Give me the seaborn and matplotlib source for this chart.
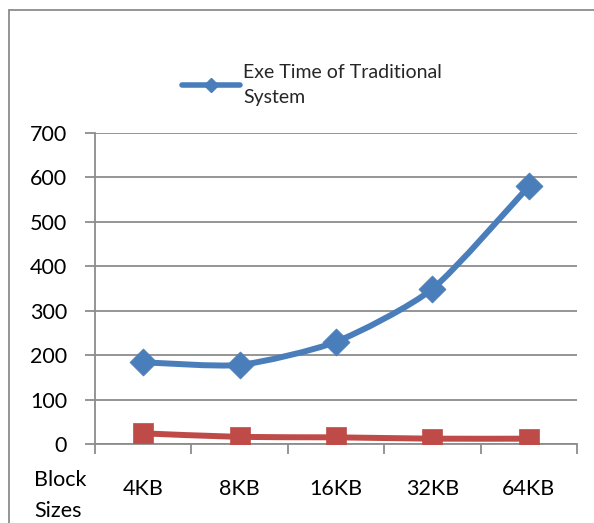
import numpy as np
import pandas as pd
import matplotlib
matplotlib.use("Agg")
import matplotlib.pyplot as plt
from matplotlib.path import Path
from matplotlib.patches import PathPatch
from matplotlib.lines import Line2D
import seaborn as sns

# Data
block_sizes = ["4KB", "8KB", "16KB", "32KB", "64KB"]
traditional_time = [184, 178, 230, 349, 580]
proposed_time = [24, 16, 15, 12, 12]
y_ticks = [0, 100, 200, 300, 400, 500, 600, 700]

BLUE = "#4A7EBB"
RED = "#BE4B48"
GRID = "#8C8C8C"

sns.set_theme(style="white")
plt.rcParams["font.family"] = ["Lato", "DejaVu Sans"]

fig = plt.figure(figsize=(5.94, 5.23), dpi=100)
ax = fig.add_axes([95 / 594, 1 - 444 / 523, (577 - 95) / 594, (444 - 133) / 523])

df = pd.DataFrame({
    "pos": np.arange(len(block_sizes)),
    "trad": traditional_time,
    "prop": proposed_time,
})


def smooth_path(xs, ys, tension=9.0):
    """Cubic Bezier curve through the points with gentle smoothing."""
    pts = np.column_stack([xs, ys]).astype(float)
    verts = [pts[0]]
    codes = [Path.MOVETO]
    n = len(pts)
    for i in range(n - 1):
        p0 = pts[i - 1] if i > 0 else pts[i]
        p1 = pts[i]
        p2 = pts[i + 1]
        p3 = pts[i + 2] if i + 2 < n else pts[i + 1]
        c1 = p1 + (p2 - p0) / tension
        c2 = p2 - (p3 - p1) / tension
        verts += [c1, c2, p2]
        codes += [Path.CURVE4] * 3
    return Path(verts, codes)


for col, color in (("trad", BLUE), ("prop", RED)):
    patch = PathPatch(smooth_path(df["pos"], df[col]), facecolor="none",
                      edgecolor=color, lw=4.3, capstyle="round",
                      joinstyle="round", zorder=3)
    ax.add_patch(patch)

sns.scatterplot(data=df, x="pos", y="trad", marker="D", s=190, color=BLUE,
                edgecolor=BLUE, linewidth=0.5, ax=ax, zorder=4, legend=False)
sns.scatterplot(data=df, x="pos", y="prop", marker="s", s=210, color=RED,
                edgecolor=RED, linewidth=0.5, ax=ax, zorder=4, legend=False)

# Axes styling
ax.set_xlim(-0.5, len(block_sizes) - 0.5)
ax.set_ylim(0, 700)
ax.set_yticks(y_ticks)
ax.set_yticklabels([str(v) for v in y_ticks])
ax.yaxis.grid(True, color=GRID, lw=1.3)
ax.set_axisbelow(True)

ax.set_xticks(np.arange(-0.5, len(block_sizes), 1.0))
ax.set_xticklabels([])
ax.set_xticks(np.arange(len(block_sizes)), minor=True)
ax.set_xticklabels(block_sizes, minor=True)
ax.tick_params(axis="x", which="major", direction="out", length=7,
               width=1.3, color=GRID, bottom=True)
ax.tick_params(axis="x", which="minor", length=0, pad=25, labelsize=15.5,
               labelcolor="black")
ax.tick_params(axis="y", direction="out", length=7, width=1.3, color=GRID,
               left=True, pad=13, labelsize=15.5, labelcolor="black")

for side in ("top", "right"):
    ax.spines[side].set_visible(False)
for side in ("left", "bottom"):
    ax.spines[side].set_color(GRID)
    ax.spines[side].set_linewidth(1.3)
ax.set_xlabel("")
ax.set_ylabel("")

# X axis title placed left of the category labels
fig.text(34 / 594, 1 - 470 / 523, "Block\nSizes", ha="left", va="top",
         fontsize=15.5, linespacing=1.7, color="black")

# Legend (single entry)
handle = Line2D([], [], color=BLUE, lw=4.0, marker="D", markersize=7,
                solid_capstyle="round")
fig.legend([handle], ["Exe Time of Traditional\nSystem"],
           loc="upper left", bbox_to_anchor=(182 / 594, 1 - 64 / 523),
           frameon=False, fontsize=14, handlelength=3.0, handletextpad=0.15,
           borderpad=0, borderaxespad=0, labelspacing=0.2)
for t in fig.legends[0].get_texts():
    t.set_linespacing(1.55)

# Chart-area border (left and top)
fig.add_artist(Line2D([9 / 594, 9 / 594], [0, 1 - 10 / 523],
                      transform=fig.transFigure, color="#8C8C8C", lw=1.3))
fig.add_artist(Line2D([9 / 594, 1], [1 - 10 / 523, 1 - 10 / 523],
                      transform=fig.transFigure, color="#8C8C8C", lw=1.3))

fig.savefig("out.png", dpi=100)
